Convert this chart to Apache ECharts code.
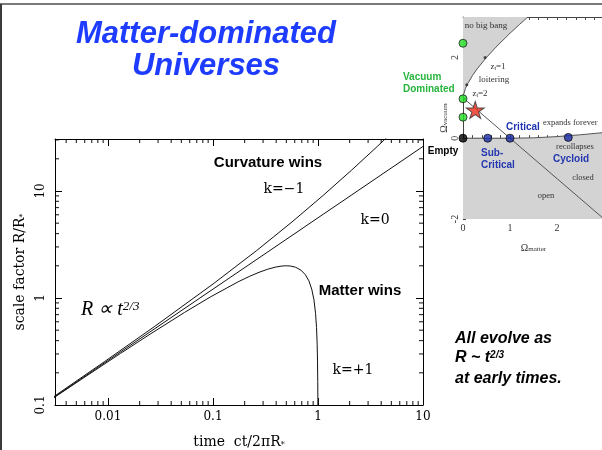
<!DOCTYPE html>
<html><head><meta charset="utf-8">
<script src="https://cdn.jsdelivr.net/npm/echarts@6/dist/echarts.min.js"></script>
<style>html,body{margin:0;padding:0;background:#fff}#c{width:602px;height:450px}</style>
</head><body><div id="c"></div>
<script>
// ---- Main plot: time ct/2piR* vs scale factor R/R* ----
const kOpen = [[0.00244,0.1030],[0.00932,0.2552],[0.02788,0.5431],[0.1002,1.3524],[0.2589,2.7622],[0.5650,5.1323],[1.1169,9.0677],[2.0758,15.573],[3.7067,26.308],[5.1793,35.857]];
const kFlat = [[0.0024,0.1004],[0.01,0.2606],[0.1,1.2097],[1,5.615],[10,26.06]];
const kClosed = [[0.00239,0.0996],[0.00563,0.1747],[0.01315,0.3033],[0.02523,0.4597],[0.05355,0.7325],[0.09556,1.0292],[0.17359,1.4161],[0.22146,1.5885],[0.27447,1.7374],[0.33176,1.8569],[0.39232,1.9422],[0.45501,1.9900],[0.5,2.0],[0.55032,1.9875],[0.61287,1.9365],[0.68780,1.8206],[0.75707,1.6536],[0.81885,1.4461],[0.87178,1.2108],[0.91503,0.9624],[0.94839,0.7163],[0.96821,0.5315],[0.98242,0.3653],[0.98986,0.2571],[0.99483,0.1653],[0.99703,0.1145],[0.99852,0.0725]];
const xMinorTicks = [0.004,0.005,0.006,0.007,0.008,0.009,0.02,0.03,0.04,0.05,0.06,0.07,0.08,0.09,0.2,0.3,0.4,0.5,0.6,0.7,0.8,0.9,2,3,4,5,6,7,8,9];
const yMinorTicks = [0.2,0.3,0.4,0.5,0.6,0.7,0.8,0.9,2,3,4,5,6,7,8,9,20,30];
const X_MIN = 0.00313, X_MAX = 10, Y_MIN = 0.1, Y_MAX = 30.6;

// ---- Inset: Omega_matter vs Omega_vacuum ----
const noBigBang = [[0,1.0],[0.02,1.107],[0.05,1.226],[0.1,1.35],[0.2,1.547],[0.3,1.714],[0.5,2.0],[0.7,2.253],[1.0,2.598],[1.2,2.813],[1.38,3.0]];
const recollapse = [[0,0],[1,0],[1.5,0.009],[2,0.04],[2.5,0.085],[3,0.14]];
const flatLine = [[0,1],[3,-2]];
const greenPts = [[0,2.35],[0,0.975],[0,0.52]];
const blackPts = [[0,0]];
const bluePts = [[0.525,0],[1,0],[2.24,0.02]];
const starPt = [[0.26,0.7]];
const curveMarks = [[0.47,2.0],[0.08,1.32]];

function decadeLabel(v){ const l=Math.log10(v); if(Math.abs(l-Math.round(l))>1e-6) return ''; return String(+Math.pow(10,Math.round(l)).toPrecision(3)); }
function intLabel(keep){ return v => { const r=Math.round(v); return (Math.abs(v-r)<1e-6 && keep.indexOf(r)>=0) ? String(r) : ''; }; }

const serif = '"DejaVu Serif"';
const tsr = '"Liberation Serif"';
const sans = '"Liberation Sans", Arial, sans-serif';

function T(x,y,text,font,fill,align,rich){
  const st={text:text,font:font,fill:fill||'#000',align:align||'center',verticalAlign:'middle',textAlign:align||'center',textVerticalAlign:'middle'};
  if(rich) st.rich=rich;
  return {type:'text',x:x,y:y,style:st,z:100};
}
const blue='#2236b0', green='#27b43c';

const chart = echarts.init(document.getElementById('c'), null, {renderer:'canvas'});
const mainAxisLine={lineStyle:{color:'#000',width:1}};
const mainTick={inside:true,length:7,lineStyle:{color:'#000',width:1}};
const insetLine={lineStyle:{color:'#444',width:1}};
const insetTick={inside:true,length:3,lineStyle:{color:'#444',width:1}};
function tickSeries(data,xi,yi,size,offset){
  return {type:'scatter',xAxisIndex:xi,yAxisIndex:yi,data:data,symbol:'rect',symbolSize:size,symbolOffset:offset,itemStyle:{color:'#000'},clip:false,silent:true,z:5};
}
chart.setOption({
  animation:false,
  backgroundColor:'#fff',
  grid:[
    {left:55,top:139,width:368,height:266,outerBoundsMode:'none',containLabel:false},
    {left:463,top:17,width:141,height:202,outerBoundsMode:'none',containLabel:false}
  ],
  xAxis:[
    {gridIndex:0,type:'log',logBase:10,min:X_MIN,max:X_MAX,position:'bottom',axisLine:mainAxisLine,axisTick:mainTick,splitLine:{show:false},minorTick:{show:false},
     axisLabel:{formatter:decadeLabel,fontFamily:serif,fontSize:12,color:'#000',margin:6},
     name:'time  ct/2\u03c0R{s|*}',nameLocation:'middle',nameGap:30,
     nameTextStyle:{fontFamily:serif,fontSize:14,color:'#000',rich:{s:{fontFamily:serif,fontSize:8,verticalAlign:'bottom',color:'#000'}}}},
    {gridIndex:0,type:'log',logBase:10,min:X_MIN,max:X_MAX,position:'top',axisLine:mainAxisLine,axisTick:mainTick,splitLine:{show:false},axisLabel:{show:false}},
    {gridIndex:1,type:'value',min:0,max:3,interval:0.2,position:'bottom',axisLine:insetLine,axisTick:insetTick,splitLine:{show:false},
     axisLabel:{formatter:intLabel([0,1,2]),fontFamily:tsr,fontSize:10,color:'#333',margin:4},
     name:'\u03a9{s|matter}',nameLocation:'middle',nameGap:24,
     nameTextStyle:{fontFamily:tsr,fontSize:10,color:'#333',rich:{s:{fontFamily:tsr,fontSize:7,verticalAlign:'bottom',color:'#333'}}}},
    {gridIndex:1,type:'value',min:0,max:3,interval:0.2,position:'top',axisLine:insetLine,axisTick:insetTick,splitLine:{show:false},axisLabel:{show:false}}
  ],
  yAxis:[
    {gridIndex:0,type:'log',logBase:10,min:Y_MIN,max:Y_MAX,position:'left',axisLine:mainAxisLine,axisTick:mainTick,splitLine:{show:false},minorTick:{show:false},
     axisLabel:{formatter:decadeLabel,fontFamily:serif,fontSize:12,color:'#000',rotate:90,margin:8},
     name:'scale factor R/R{s|*}',nameLocation:'middle',nameGap:23,nameRotate:90,
     nameTextStyle:{fontFamily:serif,fontSize:14,color:'#000',rich:{s:{fontFamily:serif,fontSize:8,verticalAlign:'bottom',color:'#000'}}}},
    {gridIndex:0,type:'log',logBase:10,min:Y_MIN,max:Y_MAX,position:'right',axisLine:mainAxisLine,axisTick:mainTick,splitLine:{show:false},axisLabel:{show:false}},
    {gridIndex:1,type:'value',min:-2,max:3,interval:1,position:'left',axisLine:insetLine,axisTick:insetTick,splitLine:{show:false},
     axisLabel:{formatter:intLabel([-2,0,2]),fontFamily:tsr,fontSize:10,color:'#333',rotate:90,margin:3},
     name:'\u03a9{s|vacuum}',nameLocation:'middle',nameGap:10,nameRotate:90,
     nameTextStyle:{fontFamily:tsr,fontSize:10,color:'#333',rich:{s:{fontFamily:tsr,fontSize:7,verticalAlign:'bottom',color:'#333'}}}}
  ],
  series:[
    {type:'line',xAxisIndex:0,yAxisIndex:0,data:kOpen,showSymbol:false,symbol:'none',lineStyle:{color:'#111',width:1},z:3},
    {type:'line',xAxisIndex:0,yAxisIndex:0,data:kFlat,showSymbol:false,symbol:'none',lineStyle:{color:'#111',width:1},z:3},
    {type:'line',xAxisIndex:0,yAxisIndex:0,data:kClosed,showSymbol:false,symbol:'none',lineStyle:{color:'#111',width:1},z:3},
    tickSeries(xMinorTicks.map(v=>[v,Y_MIN]),0,0,[1.2,4],[0,-2]),
    tickSeries(xMinorTicks.map(v=>[v,Y_MAX]),0,0,[1.2,4],[0,2]),
    tickSeries(yMinorTicks.map(v=>[X_MIN,v]),0,0,[4,1.2],[2,0]),
    tickSeries(yMinorTicks.map(v=>[X_MAX,v]),0,0,[4,1.2],[-2,0]),
    // inset
    {type:'line',xAxisIndex:2,yAxisIndex:2,data:noBigBang,showSymbol:false,symbol:'none',lineStyle:{color:'#555',width:1},areaStyle:{color:'#d3d3d3',opacity:1,origin:'end'},z:1},
    {type:'line',xAxisIndex:2,yAxisIndex:2,data:recollapse,showSymbol:false,symbol:'none',lineStyle:{color:'#555',width:1},areaStyle:{color:'#d3d3d3',opacity:1,origin:'start'},z:1},
    {type:'line',xAxisIndex:2,yAxisIndex:2,data:flatLine,showSymbol:false,symbol:'none',lineStyle:{color:'#555',width:1},z:2},
    {type:'scatter',xAxisIndex:2,yAxisIndex:2,data:curveMarks,symbol:'circle',symbolSize:3,itemStyle:{color:'#222'},clip:false,z:4},
    {type:'scatter',xAxisIndex:2,yAxisIndex:2,data:greenPts,symbol:'circle',symbolSize:8,itemStyle:{color:'#22e022',borderColor:'#222',borderWidth:1},clip:false,z:6},
    {type:'scatter',xAxisIndex:2,yAxisIndex:2,data:blackPts,symbol:'circle',symbolSize:8,itemStyle:{color:'#000',borderColor:'#000',borderWidth:1},clip:false,z:6},
    {type:'scatter',xAxisIndex:2,yAxisIndex:2,data:bluePts,symbol:'circle',symbolSize:8,itemStyle:{color:'#1a2aa8',borderColor:'#111',borderWidth:1},clip:false,z:6},
    {type:'scatter',xAxisIndex:2,yAxisIndex:2,data:starPt,symbol:'path://M50,0 L61,35 L98,35 L68,57 L79,91 L50,70 L21,91 L32,57 L2,35 L39,35 Z',symbolSize:[18,17],itemStyle:{color:'#ee2a1a',borderColor:'#333',borderWidth:1},clip:false,z:7}
  ],
  graphic:[
    {type:'rect',shape:{x:0,y:3,width:602,height:2},style:{fill:'#7a7a7a'},z:100},
    {type:'rect',shape:{x:0,y:4,width:2,height:446},style:{fill:'#3a3a3a'},z:100},
    T(206,34,'Matter-dominated','italic bold 31px '+sans,'#1e3cff'),
    T(206,66,'Universes','italic bold 31px '+sans,'#1e3cff'),
    T(268,163,'Curvature wins','bold 15px '+sans,'#000'),
    T(284,189,'k=\u22121','14px '+serif,'#000'),
    T(375,220,'k=0','14px '+serif,'#000'),
    T(360,291,'Matter wins','bold 15px '+sans,'#000'),
    T(353,370,'k=+1','14px '+serif,'#000'),
    T(81,310,'{m|R \u221d t}{p|2/3}','italic 20px '+tsr,'#000','left',{m:{fontFamily:tsr,fontStyle:'italic',fontSize:20,verticalAlign:'bottom'},p:{fontFamily:tsr,fontStyle:'italic',fontSize:13,verticalAlign:'top'}}),
    T(455,339,'All evolve as','italic bold 16px '+sans,'#000','left'),
    T(455,358,'{m|R ~ t}{p|2/3}','italic bold 16px '+sans,'#000','left',{m:{fontFamily:sans,fontStyle:'italic',fontWeight:'bold',fontSize:16,verticalAlign:'bottom'},p:{fontFamily:sans,fontStyle:'italic',fontWeight:'bold',fontSize:10,verticalAlign:'top'}}),
    T(455,379,'at early times.','italic bold 16px '+sans,'#000','left'),
    // inset labels
    T(486,26,'no big bang','9px '+tsr,'#333'),
    T(498,67,'{n|z}{s|t}{n|=1}','9px '+tsr,'#333','center',{n:{fontFamily:tsr,fontSize:9,verticalAlign:'middle'},s:{fontFamily:tsr,fontSize:6,verticalAlign:'bottom'}}),
    T(494,80,'loitering','9px '+tsr,'#333'),
    T(480,94,'{n|z}{s|t}{n|=2}','9px '+tsr,'#333','center',{n:{fontFamily:tsr,fontSize:9,verticalAlign:'middle'},s:{fontFamily:tsr,fontSize:6,verticalAlign:'bottom'}}),
    T(543,123,'expands forever','8.5px '+tsr,'#333','left'),
    T(575,147,'recollapses','8.5px '+tsr,'#333'),
    T(583,178,'closed','8.5px '+tsr,'#333'),
    T(546,196,'open','8.5px '+tsr,'#333'),
    T(403,77,'Vacuum','bold 10px '+sans,green,'left'),
    T(403,89,'Dominated','bold 10px '+sans,green,'left'),
    T(506,127,'Critical','bold 10px '+sans,blue,'left'),
    T(443,151,'Empty','bold 10px '+sans,'#000'),
    T(481,153,'Sub-','bold 10px '+sans,blue,'left'),
    T(481,165,'Critical','bold 10px '+sans,blue,'left'),
    T(553,159,'Cycloid','bold 10px '+sans,blue,'left')
  ]
});
</script></body></html>
